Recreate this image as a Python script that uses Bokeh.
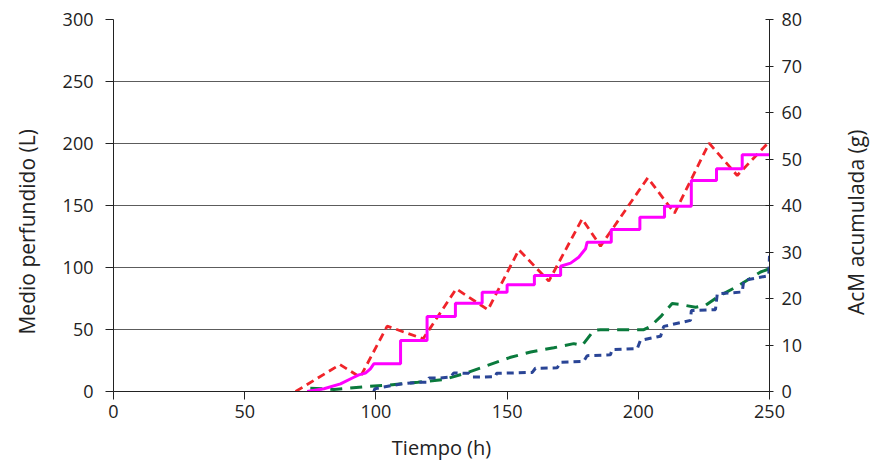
import math
from bokeh.plotting import figure
from bokeh.layouts import row, column
from bokeh.models import LinearAxis, Range1d, FixedTicker, Label
from bokeh.embed import file_html
from bokeh.resources import INLINE

# ---- data ----
# Medio perfundido (L) - left axis
mag_x = [73.8, 80.2, 86.5, 91.6, 93.5, 96.0, 97.9, 99.2, 109.4, 109.4, 119.5, 119.5,
         130.3, 130.3, 140.5, 140.5, 150.0, 150.0, 160.4, 160.4, 170.4, 170.4, 174.2,
         177.3, 179.9, 180.5, 189.7, 189.7, 200.6, 200.6, 210.0, 210.0, 220.2, 220.2,
         229.8, 229.8, 239.6, 239.6, 250.0]
mag_y = [0, 2.2, 6.2, 11.5, 13.4, 14.8, 18.3, 22.3, 22.3, 41.1, 41.1, 60.5,
         60.5, 71.2, 71.2, 80.1, 80.1, 86.0, 86.0, 93.5, 93.5, 101.0, 103.5,
         108.3, 115.1, 120.4, 120.4, 130.6, 130.6, 140.6, 140.6, 149.4, 149.4, 170.2,
         170.2, 179.6, 179.6, 190.9, 190.9]

red_x = [69.4, 86.3, 94.0, 104.3, 118.0, 130.6, 142.7, 154.5, 165.9, 178.6, 185.6,
         203.6, 213.8, 227.0, 237.7, 250.1]
red_y = [0, 21.7, 11.5, 52.7, 42.5, 82.8, 65.9, 114.3, 89.0, 139.2, 117.2,
         172.3, 143.8, 200.3, 174.2, 201.9]

# AcM acumulada (g) - right axis
grn_x = [75.0, 84.0, 97.0, 105.0, 116.0, 126.0, 134.0, 142.0, 151.0, 159.0, 167.8,
         175.4, 178.6, 183.0, 185.6, 202.1, 204.6, 208.5, 212.9, 216.1, 221.8, 225.6,
         230.1, 238.3, 246.6, 250.1]
grn_y = [0.7, 0.45, 1.1, 1.4, 2.0, 2.6, 3.9, 5.5, 7.3, 8.5, 9.4,
         10.3, 9.9, 13.1, 13.3, 13.3, 14.0, 16.1, 18.9, 18.7, 18.1, 18.5,
         20.3, 22.8, 25.7, 26.4]

blu_x = [99.2, 99.6, 102.4, 109.4, 116.4, 119.5, 120.2, 124.6, 128.4, 129.7, 135.4,
         136.7, 139.9, 145.5, 146.0, 159.6, 160.8, 169.1, 170.4, 179.2, 180.5, 189.4,
         190.0, 199.6, 200.8, 208.5, 209.7, 219.9, 220.2, 229.4, 230.1, 239.6, 240.2,
         249.7, 250.0]
blu_y = [0, 0.6, 0.9, 1.6, 2.0, 2.0, 2.9, 2.9, 3.1, 4.0, 3.9,
         3.1, 3.1, 3.2, 3.9, 4.1, 5.0, 5.1, 6.3, 6.5, 7.7, 7.9,
         9.0, 9.2, 11.0, 11.9, 14.0, 15.3, 17.4, 17.6, 21.0, 21.4, 23.9,
         24.9, 29.2]

x_ticks = [0, 50, 100, 150, 200, 250]
yl_ticks = [0, 50, 100, 150, 200, 250, 300]
yr_ticks = [0, 10, 20, 30, 40, 50, 60, 70, 80]

FONT = "Open Sans"
TXT = "#222222"
TOP_H = 431

p = figure(width=800, height=TOP_H, output_backend="svg", toolbar_location=None,
           x_range=Range1d(0, 250), y_range=Range1d(0, 300),
           min_border_left=68, min_border_right=76, min_border_top=19,
           min_border_bottom=40)
p.extra_y_ranges = {"g": Range1d(0, 80)}
p.outline_line_color = None
p.background_fill_color = "white"
p.xgrid.grid_line_color = None
p.ygrid.grid_line_color = "#5c5c5c"
p.ygrid.grid_line_width = 1.2
p.ygrid.ticker = FixedTicker(ticks=yl_ticks)

p.xaxis.ticker = FixedTicker(ticks=x_ticks)
p.yaxis.ticker = FixedTicker(ticks=yl_ticks)

for ax in [p.xaxis[0], p.yaxis[0]]:
    ax.major_tick_in = 0
    ax.major_tick_out = 8
    ax.minor_tick_line_color = None
    ax.axis_line_color = "#222222"
    ax.major_tick_line_color = "#222222"
    ax.major_label_text_font = FONT
    ax.major_label_text_font_size = "18px"
    ax.major_label_text_color = TXT

p.xaxis.major_label_standoff = 5
p.yaxis.major_label_standoff = 12

ra = LinearAxis(y_range_name="g", ticker=FixedTicker(ticks=yr_ticks))
ra.major_tick_in = 4
ra.major_tick_out = 4
ra.minor_tick_line_color = None
ra.axis_line_color = "#222222"
ra.major_tick_line_color = "#222222"
ra.major_label_text_font = FONT
ra.major_label_text_font_size = "18px"
ra.major_label_text_color = TXT
ra.major_label_standoff = 8
p.add_layout(ra, "right")

p.line(grn_x, grn_y, y_range_name="g", line_color="#0a7a3c", line_width=3,
       line_dash="12 8")
p.line(blu_x, blu_y, y_range_name="g", line_color="#2a4596", line_width=3,
       line_dash="7 5")
p.line(red_x, red_y, line_color="#f0242a", line_width=2.8, line_dash="8 5")
p.line(mag_x, mag_y, line_color="#ff00ff", line_width=3)


def panel(w, h, lx, ly, text, angle, size):
    f = figure(width=w, height=h, output_backend="svg", toolbar_location=None,
               x_range=Range1d(0, w), y_range=Range1d(0, h), min_border=0)
    f.axis.visible = False
    f.grid.grid_line_color = None
    f.outline_line_color = None
    f.add_layout(Label(x=lx, y=ly, text=text, angle=angle,
                       text_align="center", text_baseline="middle",
                       text_font=FONT, text_font_size=size, text_color=TXT))
    return f


f_left = panel(45, TOP_H, 26, 185, "Medio perfundido (L)", math.pi / 2, "21px")
f_right = panel(35, TOP_H, 10, 196, "AcM acumulada (g)", math.pi / 2, "21px")
f_bottom = panel(880, 460 - TOP_H, 441, 13, "Tiempo (h)", 0, "20px")

layout = column(row(f_left, p, f_right, spacing=0), f_bottom, spacing=0)
open("out.html", "w").write(file_html(layout, INLINE))
